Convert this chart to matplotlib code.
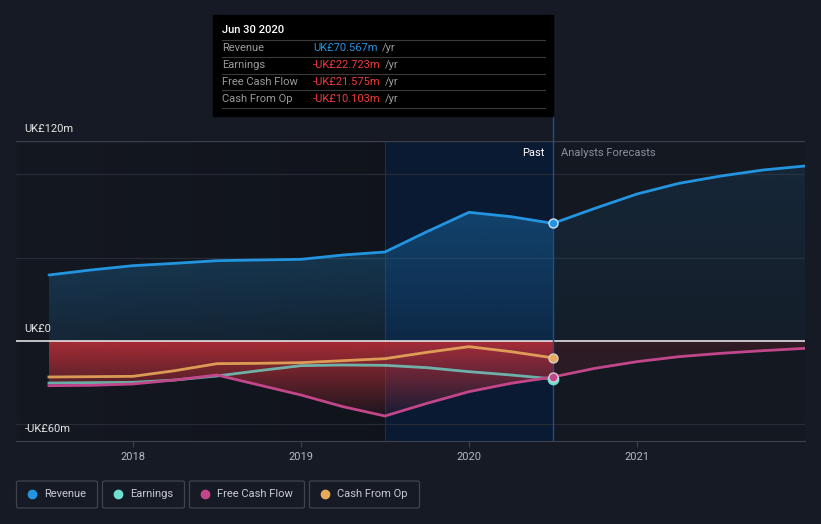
import numpy as np
import matplotlib
matplotlib.use("Agg")
import matplotlib.pyplot as plt
from matplotlib.patches import Rectangle, FancyBboxPatch
from matplotlib.colors import to_rgb

plt.rcParams['font.family'] = ['Roboto', 'DejaVu Sans']

# readings (UK£m), decimal years
past_x = [2017.5, 2017.75, 2018.0, 2018.25, 2018.5, 2018.75, 2019.0,
          2019.25, 2019.5, 2019.75, 2020.0, 2020.25, 2020.5]
revenue = [39.6, 42.6, 45.2, 46.6, 48.2, 48.6, 49.0, 51.6, 53.4, 65.6, 77.2, 74.6, 70.567]
earnings = [-25.2, -25.0, -24.8, -23.4, -21.0, -17.8, -14.8, -14.4, -14.6, -16.0, -18.4, -20.4, -22.723]
fcf = [-26.8, -26.6, -25.8, -23.4, -20.4, -26.4, -32.4, -39.4, -45.0, -37.4, -30.4, -25.4, -21.575]
cfo = [-21.6, -21.4, -21.2, -17.8, -13.6, -13.4, -13.0, -11.8, -10.6, -6.8, -3.4, -6.4, -10.103]

fc_x = [2020.5, 2020.75, 2021.0, 2021.25, 2021.5, 2021.75, 2022.0]
revenue_fc = [70.567, 79.6, 88.2, 94.6, 99.0, 102.6, 105.0]
fcf_fc = [-21.575, -16.4, -12.4, -9.4, -7.4, -5.8, -4.4]

years = [2018, 2019, 2020, 2021]
series_names = ["Revenue", "Earnings", "Free Cash Flow", "Cash From Op"]
tip_values = ["UK£70.567m", "-UK£22.723m", "-UK£21.575m", "-UK£10.103m"]

C_REV = '#2394df'
C_EARN = '#6fe0d0'
C_FCF = '#c2468a'
C_CFO = '#e8a95a'
BG = '#151a24'

W, H = 821, 524
fig = plt.figure(figsize=(W / 100, H / 100), dpi=100, facecolor=BG)
ax = fig.add_axes([16 / W, 1 - 441 / H, 789 / W, 300 / H])
ax.set_facecolor('#141821')
x0, x1 = 2017.304, 2022.0
ax.set_xlim(x0, x1)
ax.set_ylim(-60, 120)


def gradient_fill(x, y_a, y_b, color, a_top, a_bot, top, bot, z):
    poly = ax.fill_between(x, y_a, y_b, color='none', lw=0)
    rgb = to_rgb(color)
    n = 100
    img = np.zeros((n, 1, 4))
    img[:, 0, :3] = rgb
    img[:, 0, 3] = np.linspace(a_top, a_bot, n)
    im = ax.imshow(img, aspect='auto', extent=[min(x), max(x), bot, top],
                   origin='upper', zorder=z, interpolation='bilinear')
    im.set_clip_path(poly.get_paths()[0], transform=ax.transData)


# darker horizontal shading on left part of the plot
img = np.zeros((1, 100, 4))
img[0, :, :3] = to_rgb('#0e1117')
img[0, :, 3] = np.linspace(0.0, 0.6, 100)
ax.imshow(img, aspect='auto', extent=[x0, 2019.5, -60, 120], zorder=0)

# highlighted past year band
ax.axvspan(2019.5, 2020.5, color='#0a1a33', zorder=0.5, lw=0)
ax.axvline(2019.5, color='#17304f', lw=0.8, zorder=0.6)

# grid
for g in [-50, 50, 100]:
    ax.axhline(g, color='#262b36', lw=0.9, zorder=1)
ax.axhline(120, color='#3a3f4a', lw=1.0, zorder=1)

# fills
gradient_fill(past_x, revenue, 0, C_REV, 0.34, 0.12, 80, 0, 1.5)
gradient_fill(fc_x, revenue_fc, 0, C_REV, 0.12, 0.05, 106, 0, 1.5)
neg_min = np.minimum.reduce([np.array(earnings), np.array(fcf), np.array(cfo)])
gradient_fill(past_x, 0, neg_min, '#c0303a', 0.85, 0.05, 0, -46, 1.5)
gradient_fill(fc_x, 0, fcf_fc, '#c0303a', 0.16, 0.12, 0, -22, 1.5)

ax.axhline(0, color='#f2f2f2', lw=1.1, zorder=2)

lw = 2.0
ax.plot(past_x, revenue, color=C_REV, lw=lw, zorder=4, solid_capstyle='round')
ax.plot(fc_x, revenue_fc, color=C_REV, lw=lw, zorder=4, solid_capstyle='round')
ax.plot(past_x, cfo, color=C_CFO, lw=lw, zorder=3, alpha=0.9)
ax.plot(past_x, earnings, color=C_EARN, lw=lw, zorder=3, alpha=0.75)
ax.plot(past_x, fcf, color=C_FCF, lw=lw, zorder=3)
ax.plot(fc_x, fcf_fc, color=C_FCF, lw=lw, zorder=3)

# cursor and markers
ax.axvline(2020.5, color='#1d4f8a', lw=1.0, zorder=3.5)
ax.plot([2020.5], [revenue[-1]], 'o', ms=6.5, color=C_REV, mec='#cfe3f5', mew=1.0, zorder=6)
ax.plot([2020.5], [cfo[-1]], 'o', ms=6.5, color=C_CFO, mec='#cfcfcf', mew=1.0, zorder=6)
ax.plot([2020.5], [earnings[-1]], 'o', ms=7.5, color=C_EARN, mec=C_EARN, mew=1.0, zorder=6)
ax.plot([2020.5], [fcf[-1]], 'o', ms=6.5, color=C_FCF, mec='#cfcfcf', mew=1.0, zorder=6)

# y labels
for val, lab in [(120, "UK£120m"), (0, "UK£0"), (-60, "-UK£60m")]:
    ax.text(2017.356, val + 7.2, lab, color='#e6e6e6', fontsize=8, va='center', ha='left', zorder=7)

ax.text(2020.45, 112.5, "Past", color='#ffffff', fontsize=8, ha='right', va='center', zorder=7)
ax.text(2020.55, 112.5, "Analysts Forecasts", color='#8a8f99', fontsize=8, ha='left', va='center', zorder=7)

ax.set_yticks([])
ax.set_xticks(years)
ax.set_xticklabels([str(y) for y in years])
ax.tick_params(axis='x', colors='#3d4250', labelcolor='#b5b8bf', labelsize=8, length=4, pad=4)
for s in ['top', 'left', 'right']:
    ax.spines[s].set_visible(False)
ax.spines['bottom'].set_color('#3d4250')


def fxy(px, py):
    return px / W, 1 - py / H


# tooltip
fig.add_artist(plt.Line2D([552.5 / W, 552.5 / W], [1 - 141 / H, 1 - 115 / H], color='#1d4f8a', lw=1.0))
fig.add_artist(Rectangle(fxy(213, 116), 340 / W, 101 / H, color='#000000', zorder=10))
fig.text(*fxy(222, 30), "Jun 30 2020", color='#ffffff', fontsize=8, va='center',
         fontweight='medium', zorder=11)
val_colors = [C_REV, '#ef3b3b', '#ef3b3b', '#ef3b3b']
renderer = fig.canvas.get_renderer()
for i, name in enumerate(series_names):
    yy = 48 + 17 * i
    fig.add_artist(plt.Line2D([222 / W, 545 / W], [1 - (yy - 8.5) / H] * 2, color='#3a3a3a', lw=0.8, zorder=11))
    fig.text(*fxy(222, yy), name, color='#9a9a9a', fontsize=8, va='center', zorder=11)
    t = fig.text(*fxy(313, yy), tip_values[i], color=val_colors[i], fontsize=8, va='center', zorder=11)
    ext = t.get_window_extent(renderer)
    fig.text((ext.x1 + 4) / W, 1 - yy / H, "/yr", color='#9a9a9a', fontsize=8, va='center', zorder=11)
fig.add_artist(plt.Line2D([222 / W, 545 / W], [1 - 108.5 / H] * 2, color='#3a3a3a', lw=0.8, zorder=11))

# legend
boxes = [(16, 97), (102, 184), (189, 304), (309, 419)]
leg_colors = [C_REV, C_EARN, C_FCF, C_CFO]
for (bx0, bx1), name, col in zip(boxes, series_names, leg_colors):
    fig.add_artist(FancyBboxPatch(fxy(bx0 + 0.5, 508), (bx1 - bx0) / W, 27 / H,
                                  boxstyle='round,pad=0,rounding_size=0.003',
                                  fc='none', ec='#3e434e', lw=0.9))
    fig.add_artist(plt.Line2D([(bx0 + 16) / W], [1 - 494 / H], marker='o', ms=6, color=col, mec=col))
    fig.text(*fxy(bx0 + 28, 494), name, color='#c8cbd0', fontsize=8, va='center')

fig.savefig("out.png", dpi=100, facecolor=BG)
